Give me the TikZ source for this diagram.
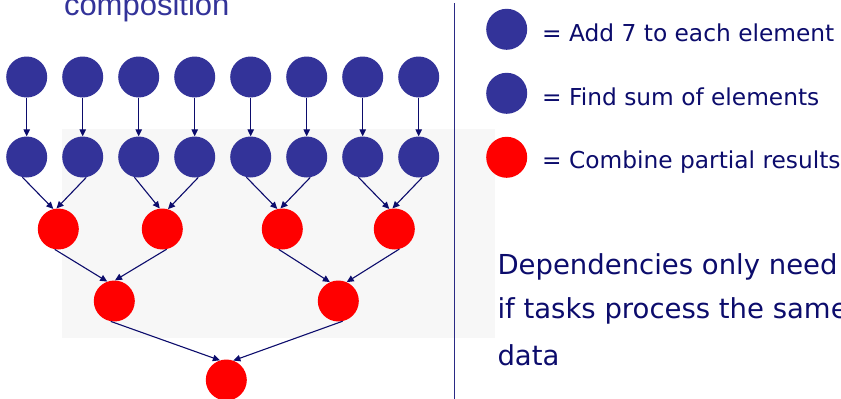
\documentclass[tikz,border=0pt]{standalone}
\usepackage{fontspec}
\usetikzlibrary{arrows.meta}
\newfontfamily\legendfont{DejaVu Sans}
\newfontfamily\titlefont{Liberation Sans}
\definecolor{taskblue}{HTML}{333399}
\definecolor{taskred}{HTML}{FF0000}
\definecolor{inkblue}{HTML}{0C0C6C}
\definecolor{rulerblue}{HTML}{2A2A85}
\definecolor{panelgray}{HTML}{F7F7F7}
\tikzset{
  task/.style={circle, minimum size=41pt, inner sep=0pt, draw=none},
  addtask/.style={task, fill=taskblue},
  sumtask/.style={task, fill=taskblue},
  combtask/.style={task, fill=taskred},
  dep/.style={draw=inkblue, line width=1.1pt, -{Triangle[length=7pt,width=6.5pt]}},
  legendtext/.style={anchor=base west, inner sep=0pt, text=inkblue,
    font=\legendfont\fontsize{23.3}{28}\selectfont},
  notetext/.style={anchor=base west, inner sep=0pt, text=inkblue,
    font=\legendfont\fontsize{27.5}{32}\selectfont},
}
\begin{document}
\begin{tikzpicture}[x=1pt, y=-1pt]
\useasboundingbox (0,0) rectangle (841,399);

% shaded panel behind the reduction tree
\fill[panelgray] (62,129) rectangle (495,337.7);

% heading fragment
\node[anchor=base west, inner sep=0pt, text=taskblue,
      font=\titlefont\fontsize{31}{36}\selectfont] (title) at (63.8,15) {composition};

% separator rule
\coordinate (ruletop) at (454.7,3);
\coordinate (rulebot) at (454.7,399);
\draw[rulerblue, line width=1pt] (ruletop) -- (rulebot);

% first level: add 7 to each element
\foreach \i in {1,...,8} {
  \node[addtask] (t\i) at ({26.7+56*(\i-1)},77) {};
  \node[sumtask] (s\i) at ({26.7+56*(\i-1)},157) {};
  \draw[dep] (t\i.south) -- (s\i.north);
}

% combining levels
\node[combtask] (c1) at (58.3,229) {};
\node[combtask] (c2) at (162.3,229) {};
\node[combtask] (c3) at (282.3,229) {};
\node[combtask] (c4) at (394.3,229) {};
\node[combtask] (d1) at (114.3,301) {};
\node[combtask] (d2) at (338.3,301) {};
\node[combtask] (e)  at (226.3,380) {};

\draw[dep] (s1.-102) -- (c1.104);
\draw[dep] (s2.-80)  -- (c1.95);
\draw[dep] (s3.-102) -- (c2.97);
\draw[dep] (s4.-80)  -- (c2.74);
\draw[dep] (s5.-102) -- (c3.104);
\draw[dep] (s6.-80)  -- (c3.95);
\draw[dep] (s7.-102) -- (c4.104);
\draw[dep] (s8.-80)  -- (c4.95);

\draw[dep] (c1.-100) -- (d1.110);
\draw[dep] (c2.-78)  -- (d1.88);
\draw[dep] (c3.-100) -- (d2.114);
\draw[dep] (c4.-76)  -- (d2.66);

\draw[dep] (d1.-100) -- (e.108);
\draw[dep] (d2.-78)  -- (e.70);

% legend
\node[addtask]  (key1) at (506.7,29.3) {};
\node[sumtask]  (key2) at (506.7,93.3) {};
\node[combtask] (key3) at (506.7,157.3) {};
\node[legendtext] (lab1) at (542,41.7)  {= Add 7 to each element};
\node[legendtext] (lab2) at (542,105)   {= Find sum of elements};
\node[legendtext] (lab3) at (542,168.3) {= Combine partial results};

% note
\node[notetext] (note1) at (497.3,274)   {Dependencies only need};
\node[notetext] (note2) at (497.3,318.3) {if tasks process the same};
\node[notetext] (note3) at (497.3,365.7) {data};
\end{tikzpicture}
\end{document}
